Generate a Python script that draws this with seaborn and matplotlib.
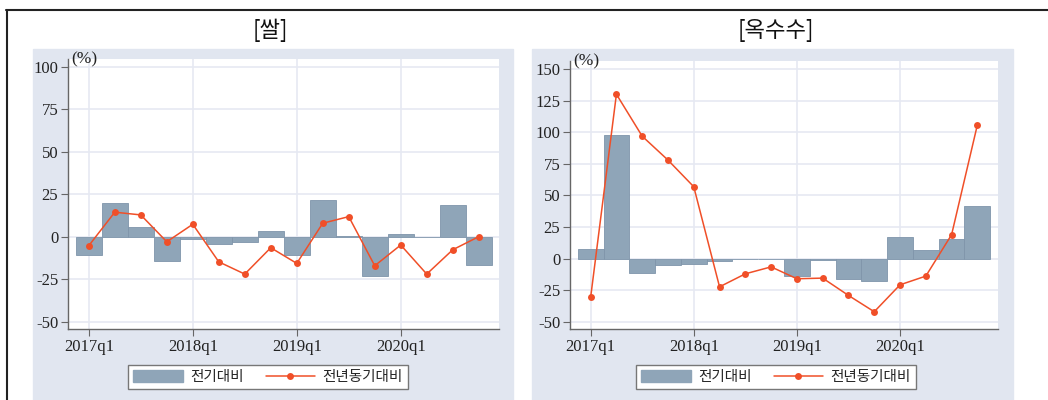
import numpy as np
import pandas as pd
import matplotlib
matplotlib.use("Agg")
import matplotlib.pyplot as plt
import seaborn as sns
from matplotlib.patches import Patch, Rectangle
from matplotlib.lines import Line2D

# quarters 2017q1 .. 2020q4
quarters = [f"{y}q{q}" for y in range(2017, 2021) for q in range(1, 5)]
year_ticks = ["2017q1", "2018q1", "2019q1", "2020q1"]

# 쌀 (rice)
rice_qoq = [-11, 20, 5.5, -14.2, -1.6, -4.5, -3.3, 3.1,
            -11, 21.7, 0.3, -23.4, 1.8, -0.3, 18.7, -16.9]
rice_yoy = [-5.3, 14.4, 12.8, -3, 7.3, -14.8, -22, -6.5,
            -15.7, 7.9, 11.8, -17.1, -4.9, -22, -7.7, 0]

# 옥수수 (corn)
corn_qoq = [7.6, 97.6, -11.6, -5.3, -4.5, -1.6, 0, 0,
            -14.2, -1.1, -16, -17.9, 17.1, 6.8, 15.8, 41.3]
corn_yoy = [-30.8, 130, 96.8, 77.9, 56.8, -22.4, -12.1, -6.6,
            -16, -15.5, -29.2, -42.1, -20.8, -13.9, 18.9, 105.8]

bar_color = "#8fa5b8"
line_color = "#f04f28"
panel_bg = "#e1e6f0"
grid_color = "#e6e9f2"

sns.set_theme(style="white")
plt.rcParams["font.family"] = ["Liberation Serif", "DejaVu Serif"]

fig = plt.figure(figsize=(10.48, 4), dpi=100)
fig.patch.set_facecolor("white")

# outer frame lines
fig.add_artist(Line2D([6 / 1048, 1], [1 - 9.5 / 400, 1 - 9.5 / 400], color="#222222", lw=1.5))
fig.add_artist(Line2D([6.5 / 1048, 6.5 / 1048], [0, 1 - 9.5 / 400], color="#222222", lw=1.5))

# panel backgrounds
fig.add_artist(Rectangle((33 / 1048, 0), (513 - 33) / 1048, 1 - 49 / 400,
                         transform=fig.transFigure, color=panel_bg, zorder=0))
fig.add_artist(Rectangle((532 / 1048, 0), (1013 - 532) / 1048, 1 - 49 / 400,
                         transform=fig.transFigure, color=panel_bg, zorder=0))

panels = [
    dict(title="[쌀]", qoq=rice_qoq, yoy=rice_yoy, pos=[68 / 1048, 71 / 400, 431 / 1048, 270 / 400],
         ylim=(-54.3, 104.5), yticks=[-50, -25, 0, 25, 50, 75, 100], tx=270, lx=268),
    dict(title="[옥수수]", qoq=corn_qoq, yoy=corn_yoy, pos=[570 / 1048, 70.7 / 400, 427.5 / 1048, 268.3 / 400],
         ylim=(-56, 156.3), yticks=[-50, -25, 0, 25, 50, 75, 100, 125, 150], tx=776, lx=776),
]

for p in panels:
    ax = fig.add_axes(p["pos"])
    ax.set_facecolor("white")
    df = pd.DataFrame({"idx": np.arange(len(quarters)), "quarter": quarters,
                       "qoq": p["qoq"], "yoy": p["yoy"]})
    sns.barplot(data=df, x="idx", y="qoq", native_scale=True, width=1.0, color=bar_color,
                saturation=1, edgecolor="#7f95aa", linewidth=0.6, ax=ax, zorder=2)
    sns.lineplot(data=df, x="idx", y="yoy", color=line_color, lw=1.1, marker="o",
                 markersize=5, markeredgewidth=0, ax=ax, zorder=3)
    ax.set_xlim(-0.8, 15.78)
    ax.set_ylim(*p["ylim"])
    ax.set_yticks(p["yticks"])
    ax.set_yticklabels([str(v) for v in p["yticks"]])
    tick_pos = [quarters.index(t) for t in year_ticks]
    ax.set_xticks(tick_pos)
    ax.set_xticklabels(year_ticks)
    ax.set_xlabel("")
    ax.set_ylabel("")
    ax.grid(True, color=grid_color, lw=1.2, zorder=0)
    ax.set_axisbelow(True)
    for s in ["top", "right"]:
        ax.spines[s].set_visible(False)
    for s in ["left", "bottom"]:
        ax.spines[s].set_color("#666666")
        ax.spines[s].set_linewidth(1)
    ax.tick_params(axis="both", direction="out", length=5, width=0.8, color="#666666",
                   labelsize=12, labelcolor="#222222", pad=2, left=True, bottom=True)
    ax.text(0.008, 1.0, "(%)", transform=ax.transAxes, fontsize=12.5, color="#222222",
            ha="left", va="center")
    fig.text(p["tx"] / 1048, 1 - 30 / 400, p["title"], ha="center", va="center",
             fontsize=16, family=["Noto Sans CJK KR", "DejaVu Sans"], color="#111111")
    handles = [Patch(facecolor=bar_color, edgecolor=bar_color),
               Line2D([], [], color=line_color, lw=1.1, marker="o", markersize=5, markeredgewidth=0)]
    leg = fig.legend(handles, ["전기대비", "전년동기대비"], loc="center",
                     bbox_to_anchor=(p["lx"] / 1048, 1 - 377 / 400), ncol=2, frameon=True,
                     fancybox=False, edgecolor="#777777", framealpha=1, handlelength=3.4,
                     handleheight=0.9, handletextpad=0.5, columnspacing=1.5, borderpad=0.35,
                     prop={"family": ["Noto Sans CJK KR", "DejaVu Sans"], "size": 10.5})
    leg.get_frame().set_linewidth(1)

fig.savefig("out.png", dpi=100)
